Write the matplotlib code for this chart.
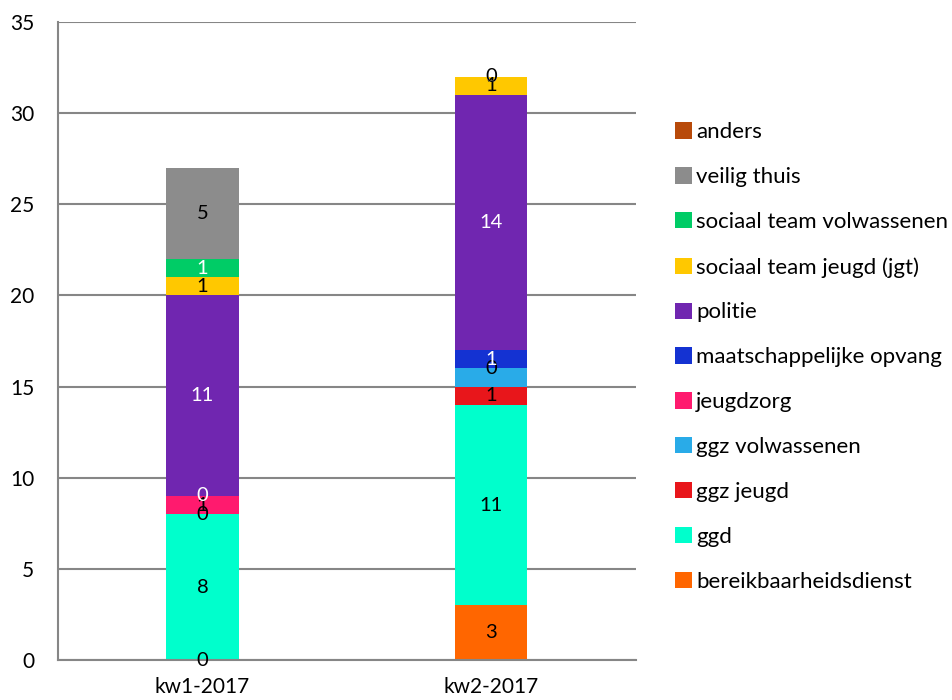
import matplotlib
matplotlib.use("Agg")
import matplotlib.pyplot as plt
import numpy as np
from matplotlib.patches import Patch

# --- Data (bottom of stack first) ---
weeks = ["kw1-2017", "kw2-2017"]
series = [
    "bereikbaarheidsdienst",
    "ggd",
    "ggz jeugd",
    "ggz volwassenen",
    "jeugdzorg",
    "maatschappelijke opvang",
    "politie",
    "sociaal team jeugd (jgt)",
    "sociaal team volwassenen",
    "veilig thuis",
    "anders",
]
bereik = [0, 3]
ggd = [8, 11]
ggz_jeugd = [0, 1]
ggz_volw = [0, 1]
jeugdzorg = [1, 0]
maatsch = [0, 1]
politie = [11, 14]
st_jeugd = [1, 1]
st_volw = [1, 0]
veilig = [5, 0]
anders = [0, 0]
values = [bereik, ggd, ggz_jeugd, ggz_volw, jeugdzorg, maatsch,
          politie, st_jeugd, st_volw, veilig, anders]

# --- Styling ---
colors = ["#FF6600", "#00FFCC", "#E8161B", "#29ABE8", "#FF1A6E", "#1432D2",
          "#7026B0", "#FFC800", "#00CC66", "#8C8C8C", "#B84A0A"]
label_colors = ["black", "black", "black", None, "black", "white",
                "white", "black", "white", "black", None]
FONT = "Lato"
GRID = "#868686"

fig = plt.figure(figsize=(9.52, 7.0), dpi=100)
ax = fig.add_axes([0.0609, 0.0571, 0.607, 0.9115])

x = np.arange(len(weeks))
bottom = np.zeros(len(weeks))
for vals, col in zip(values, colors):
    ax.bar(x, vals, width=0.25, bottom=bottom, color=col, zorder=2)
    bottom += np.array(vals)

# data labels (drawn after bars so they sit on top)
bottom = np.zeros(len(weeks))
for vals, lc in zip(values, label_colors):
    vals = np.array(vals)
    if lc is not None:
        for xi, v, b in zip(x, vals, bottom):
            ax.text(xi, b + v / 2, str(int(v)), ha="center", va="center",
                    color=lc, fontsize=14.5, family=FONT, zorder=3)
    bottom += vals

ax.set_xlim(-0.5, 1.5)
ax.set_ylim(0, 35)
ax.set_yticks(range(0, 36, 5))
ax.set_xticks(x)
ax.set_xticklabels(weeks)
ax.yaxis.grid(True, color=GRID, linewidth=1.5, zorder=0)
ax.set_axisbelow(True)
for side in ("top", "right"):
    ax.spines[side].set_visible(False)
for side in ("left", "bottom"):
    ax.spines[side].set_color(GRID)
    ax.spines[side].set_linewidth(1.5)
ax.tick_params(axis="both", length=0, labelsize=15)
ax.tick_params(axis="y", pad=17)
ax.tick_params(axis="x", pad=12)
for lab in ax.get_xticklabels() + ax.get_yticklabels():
    lab.set_family(FONT)

# legend, top entry = last series
handles = [Patch(facecolor=c, edgecolor="none") for c in colors][::-1]
leg = fig.legend(handles, series[::-1], loc="center left",
                 bbox_to_anchor=(0.709, 0.490), frameon=False,
                 handlelength=0.75, handleheight=0.75, handletextpad=0.2,
                 labelspacing=1.12, prop={"family": FONT, "size": 16},
                 borderpad=0, borderaxespad=0)

fig.savefig("out.png", dpi=100)
